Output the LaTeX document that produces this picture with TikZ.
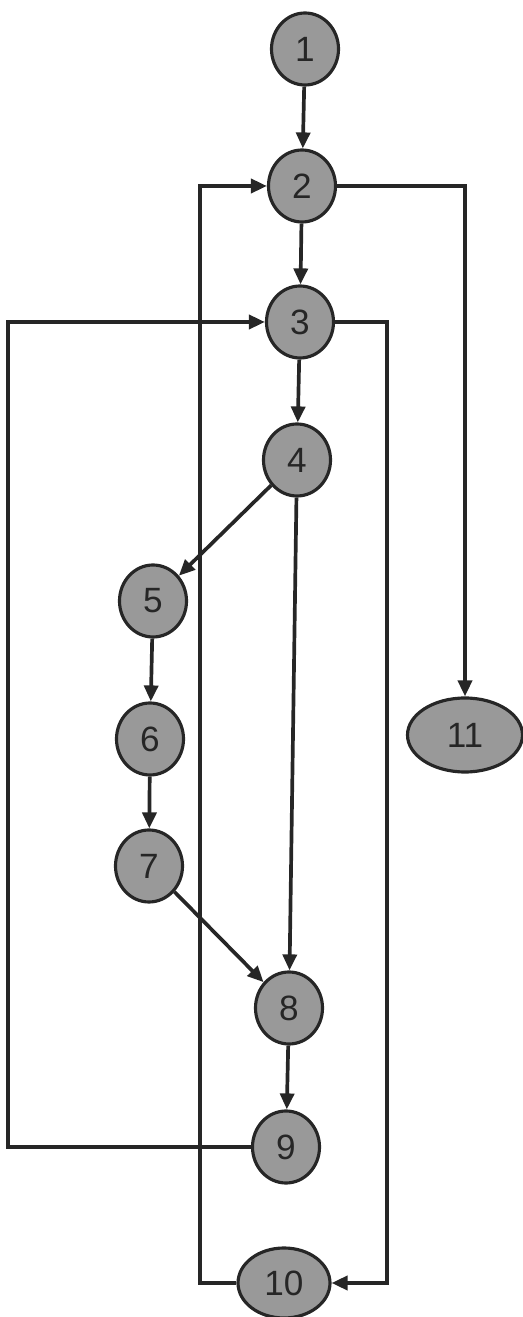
\documentclass[tikz,border=0pt]{standalone}
\usepackage{fontspec}
\setmainfont{Liberation Sans}
\usepackage{tikz}
\usetikzlibrary{shapes.geometric, arrows.meta, positioning, calc}
\tikzset{
    cfg_node/.style={
        ellipse, minimum width=1.34cm, minimum height=1.44cm, inner sep=0pt,
        align=center, draw=black!85, line width=1.8pt, fill=black!40,
        font=\fontsize{20}{24}\selectfont, text=black!85
    },
    cfg_wide/.style={
        cfg_node, minimum width=1.84cm, minimum height=1.40cm
    },
    cfg_end/.style={
        cfg_node, minimum width=2.30cm, minimum height=1.48cm
    },
    arrow/.style={
        line width=2.1pt, -{Triangle[length=0.32cm, width=0.28cm]}, draw=black!85
    }
}
\begin{document}
\begin{tikzpicture}
    \useasboundingbox (0,0) rectangle (10.44,26.34);
    % Nodos del grafo
    \node[cfg_node] (n1) at (6.10, 25.36) {1};
    \node[cfg_node] (n2) at (6.04, 22.62) {2};
    \node[cfg_node] (n3) at (6.00, 19.90) {3};
    \node[cfg_node] (n4) at (5.94, 17.14) {4};
    \node[cfg_node] (n5) at (3.06, 14.32) {5};
    \node[cfg_node] (n6) at (3.00, 11.56) {6};
    \node[cfg_node] (n7) at (2.98, 9.02) {7};
    \node[cfg_node] (n8) at (5.78, 6.18) {8};
    \node[cfg_node] (n9) at (5.72, 3.40) {9};
    \node[cfg_wide] (n10) at (5.68, 0.68) {10};
    \node[cfg_end] (n11) at (9.30, 11.64) {11};

    % Aristas directas
    \draw[arrow] (n1) -- (n2);
    \draw[arrow] (n2) -- (n3);
    \draw[arrow] (n3) -- (n4);
    \draw[arrow] (n4) -- (n5);
    \draw[arrow] (n4) -- (n8);
    \draw[arrow] (n5) -- (n6);
    \draw[arrow] (n6) -- (n7);
    \draw[arrow] (n7) -- (n8);
    \draw[arrow] (n8) -- (n9);
    \draw[arrow] (n2) -| (n11);

    % Lazo 9 -> 3 (izquierda)
    \coordinate (l_bot) at (0.16, 3.40);
    \coordinate (l_top) at (0.16, 19.90);
    \draw[arrow] (n9) -- (l_bot) -- (l_top) -- (n3);

    % Lazo 10 -> 2 (centro)
    \coordinate (m_bot) at (4.00, 0.68);
    \coordinate (m_top) at (4.00, 22.62);
    \draw[arrow] (n10) -- (m_bot) -- (m_top) -- (n2);

    % Salida 3 -> 10 (derecha)
    \coordinate (r_top) at (7.74, 19.90);
    \coordinate (r_bot) at (7.74, 0.68);
    \draw[arrow] (n3) -- (r_top) -- (r_bot) -- (n10);
\end{tikzpicture}
\end{document}
